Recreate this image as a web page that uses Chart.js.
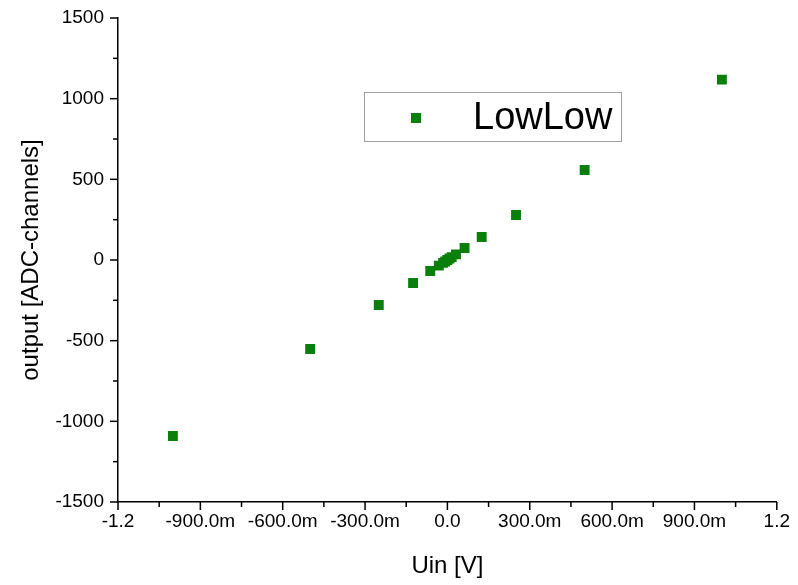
<!DOCTYPE html>
<html>
<head>
<meta charset="utf-8">
<script src="https://cdn.jsdelivr.net/npm/chart.js@4.4.0/dist/chart.umd.min.js"></script>
<style>
  body { margin: 0; background: #fff; }
</style>
</head>
<body>
<canvas id="adcChart" width="798" height="585"></canvas>
<script>
// data
const uinValues = [-1, -0.5, -0.25, -0.125, -0.0625, -0.03125, -0.015625, -0.0078125, 0,
  0.0078125, 0.015625, 0.03125, 0.0625, 0.125, 0.25, 0.5, 1];
const outputValues = [-1091, -552, -279, -143, -68, -35, -18, -9, 0,
  9, 18, 35, 74, 143, 279, 558, 1118];
const seriesName = 'LowLow';

const xMajorTicks = [-1.2, -0.9, -0.6, -0.3, 0, 0.3, 0.6, 0.9, 1.2];
const xTickLabels = ['-1.2', '-900.0m', '-600.0m', '-300.0m', '0.0', '300.0m', '600.0m', '900.0m', '1.2'];
const yMajorTicks = [-1500, -1000, -500, 0, 500, 1000, 1500];
const yTickLabels = ['-1500', '-1000', '-500', '0', '500', '1000', '1500'];

const FONT = "'Liberation Sans', Arial, sans-serif";
const GREEN = '#0b7f0b';

function findMajor(list, v) {
  for (let i = 0; i < list.length; i++) {
    if (Math.abs(list[i] - v) < 1e-6 * Math.max(1, Math.abs(list[i]))) return i;
  }
  return -1;
}

// outward major + minor tick marks
const tickMarks = {
  id: 'tickMarks',
  afterDraw(chart) {
    const ctx = chart.ctx;
    const xs = chart.scales.x, ys = chart.scales.y;
    ctx.save();
    ctx.strokeStyle = '#000';
    ctx.lineWidth = 1.5;
    xs.ticks.forEach(t => {
      const px = xs.getPixelForValue(t.value);
      const len = findMajor(xMajorTicks, t.value) >= 0 ? 8 : 5;
      ctx.beginPath();
      ctx.moveTo(px, xs.top);
      ctx.lineTo(px, xs.top + len);
      ctx.stroke();
    });
    ys.ticks.forEach(t => {
      const py = ys.getPixelForValue(t.value);
      const len = findMajor(yMajorTicks, t.value) >= 0 ? 8 : 5;
      ctx.beginPath();
      ctx.moveTo(ys.right, py);
      ctx.lineTo(ys.right - len, py);
      ctx.stroke();
    });
    ctx.restore();
  }
};

// boxed legend inside the plot
const boxLegend = {
  id: 'boxLegend',
  afterDraw(chart) {
    const ctx = chart.ctx;
    const ds = chart.data.datasets[0];
    ctx.save();
    ctx.strokeStyle = '#a0a0a0';
    ctx.lineWidth = 1;
    ctx.fillStyle = '#fff';
    ctx.fillRect(364.5, 92.5, 257, 49);
    ctx.strokeRect(364.5, 92.5, 257, 49);
    ctx.fillStyle = ds.backgroundColor;
    ctx.fillRect(411, 113, 10, 10);
    ctx.fillStyle = '#000';
    ctx.font = '38px ' + FONT;
    ctx.textBaseline = 'middle';
    ctx.fillText(ds.label, 473, 119);
    ctx.restore();
  }
};

new Chart(document.getElementById('adcChart'), {
  type: 'scatter',
  data: {
    datasets: [{
      label: seriesName,
      data: uinValues.map((x, i) => ({ x, y: outputValues[i] })),
      backgroundColor: GREEN,
      borderColor: GREEN,
      pointStyle: 'rect',
      pointRadius: 7,
      pointBorderWidth: 0
    }]
  },
  options: {
    responsive: false,
    animation: false,
    layout: { padding: { left: 0, right: 21, top: 18, bottom: 0 } },
    plugins: { legend: { display: false }, tooltip: { enabled: false } },
    scales: {
      x: {
        type: 'linear',
        min: -1.2,
        max: 1.2,
        afterFit(s) { s.height = 83; },
        grid: { display: false, drawTicks: false },
        border: { display: true, color: '#000', width: 1.5 },
        ticks: {
          stepSize: 0.15,
          autoSkip: false,
          maxRotation: 0,
          padding: 8,
          color: '#000',
          font: { family: FONT, size: 19 },
          callback(v) {
            const i = findMajor(xMajorTicks, v);
            return i >= 0 ? xTickLabels[i] : '';
          }
        },
        title: {
          display: true,
          text: 'Uin [V]',
          color: '#000',
          font: { family: FONT, size: 24 },
          padding: { top: 0, bottom: 4 }
        }
      },
      y: {
        type: 'linear',
        min: -1500,
        max: 1500,
        afterFit(s) { s.width = 118; s.paddingTop = 0; },
        grid: { display: false, drawTicks: false },
        border: { display: true, color: '#000', width: 1.5 },
        ticks: {
          stepSize: 250,
          autoSkip: false,
          padding: 14,
          color: '#000',
          font: { family: FONT, size: 19 },
          callback(v) {
            const i = findMajor(yMajorTicks, v);
            return i >= 0 ? yTickLabels[i] : '';
          }
        },
        title: {
          display: true,
          text: 'output [ADC-channels]',
          color: '#000',
          font: { family: FONT, size: 24 },
          padding: { top: 17, bottom: 0 }
        }
      }
    }
  },
  plugins: [tickMarks, boxLegend]
});
</script>
</body>
</html>
